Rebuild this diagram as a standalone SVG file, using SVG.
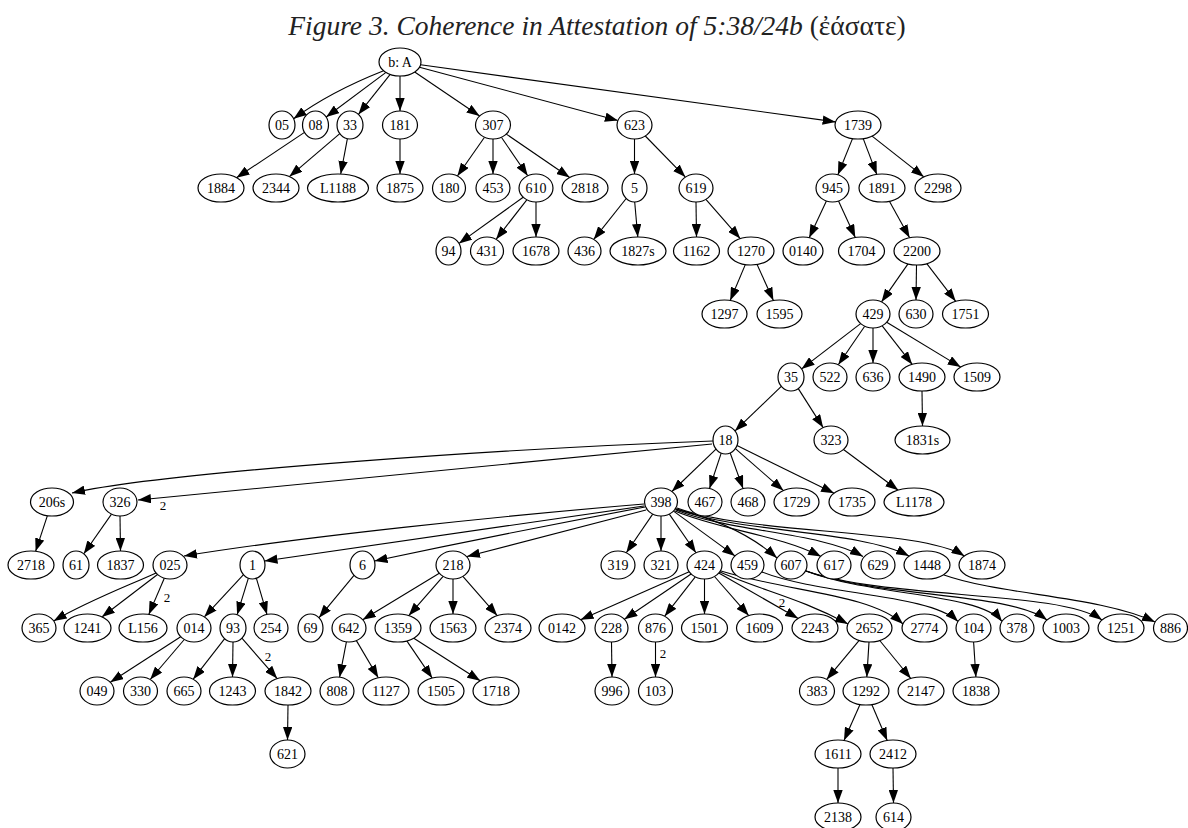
<svg xmlns="http://www.w3.org/2000/svg" width="1188" height="828" viewBox="0 0 1188 828">
<style>
.node ellipse{fill:#fff;stroke:#000;stroke-width:1.2}
.node text{font-family:"Liberation Serif",serif;font-size:14px;text-anchor:middle;fill:#000}
.e{fill:none;stroke:#000;stroke-width:1.1;marker-end:url(#ah)}
.lbl{font-family:"Liberation Serif",serif;font-size:13px;text-anchor:middle;fill:#000}
.title{font-family:"Liberation Serif",serif;font-size:27.5px;fill:#222}
</style>
<defs>
<marker id="ah" viewBox="0 0 13 9.4" markerWidth="13" markerHeight="9.4" refX="13" refY="4.7" orient="auto" markerUnits="userSpaceOnUse"><path d="M0,0 L13,4.7 L0,9.4 z" fill="#000"/></marker>
</defs>
<rect width="1188" height="828" fill="#fff"/>
<text class="title" x="597" y="35" text-anchor="middle"><tspan font-style="italic">Figure 3. Coherence in Attestation of 5:38/24b</tspan> (ἐάσατε)</text>
<g id="edges">
<path class="e" d="M383.6,70.8 Q330,92 293.6,118.8"/>
<path class="e" d="M386,72.4 L326.2,117"/>
<path class="e" d="M390.2,74.4 L358.4,114.4"/>
<path class="e" d="M400,76 L400,111"/>
<path class="e" d="M414.7,72 L479.6,116"/>
<path class="e" d="M419.5,67.2 L617.9,120.5"/>
<path class="e" d="M420.6,64.8 L835.6,121.9"/>
<path class="e" d="M304.5,132.4 L236.5,177.7"/>
<path class="e" d="M339.8,133.7 L289.4,176.6"/>
<path class="e" d="M347.4,138.7 L340.7,174"/>
<path class="e" d="M400,139 L400,174"/>
<path class="e" d="M484.5,137.2 L457.4,176"/>
<path class="e" d="M493,139 L493,174"/>
<path class="e" d="M501.4,137.3 L527.7,175.8"/>
<path class="e" d="M506.3,134.1 L569.7,177.5"/>
<path class="e" d="M634.5,139 L634.5,174"/>
<path class="e" d="M645.3,136 L685.4,177.1"/>
<path class="e" d="M852.5,138.6 L837.9,174.8"/>
<path class="e" d="M863.2,138.6 L876.8,174.4"/>
<path class="e" d="M872.1,136.1 L923.9,176.9"/>
<path class="e" d="M523.2,197.2 L459,243.4"/>
<path class="e" d="M526.8,199.8 L496.1,239.3"/>
<path class="e" d="M536,202 L536,237"/>
<path class="e" d="M626.2,198.5 L593.7,239.4"/>
<path class="e" d="M634.7,202 L637.8,237"/>
<path class="e" d="M696,202 L696.5,237"/>
<path class="e" d="M705.9,199.4 L740.2,238.6"/>
<path class="e" d="M826.4,201 L809.2,237.7"/>
<path class="e" d="M838.5,201 L855.3,237.5"/>
<path class="e" d="M889.4,201.3 L909.6,237.7"/>
<path class="e" d="M745.3,264.6 L730.2,300.5"/>
<path class="e" d="M757.1,264.5 L773.4,300.5"/>
<path class="e" d="M908,263.9 L881.5,301.9"/>
<path class="e" d="M916.5,265 L916,300"/>
<path class="e" d="M926.8,263.7 L955.7,301.3"/>
<path class="e" d="M860.6,323.6 L801.6,368.9"/>
<path class="e" d="M864.7,326.2 L838.3,364.8"/>
<path class="e" d="M873,328 L873,363"/>
<path class="e" d="M882.2,325.8 L912.2,364.4"/>
<path class="e" d="M886.7,322.3 L960.7,367.1"/>
<path class="e" d="M781.3,386.3 L735,430.9"/>
<path class="e" d="M798.3,388.6 L823.1,427.6"/>
<path class="e" d="M922,391 L922.5,426"/>
<path class="e" d="M843.5,449.5 L898.3,490.3"/>
<path class="e" d="M716,449.1 L671.9,491.5"/>
<path class="e" d="M721.2,453.1 L709.5,488.5"/>
<path class="e" d="M730.2,453 L743.1,488.6"/>
<path class="e" d="M735.4,448.6 L783.4,490.6"/>
<path class="e" d="M737,445.6 L834.1,493.2"/>
<path class="e" d="M713,441 C520,448 170,471 72,493"/>
<path class="e" d="M712,444 L138,500"/>
<text class="lbl" x="163" y="510">2</text>
<path class="e" d="M47.4,515.7 L35.6,551.3"/>
<path class="e" d="M111.5,514.1 L83.8,553.8"/>
<path class="e" d="M120,516 L120.5,551"/>
<path class="e" d="M644,504 C500,516 300,537 184,556"/>
<path class="e" d="M644,506 L264.5,561"/>
<path class="e" d="M645,507 C560,523 450,545 374.5,561"/>
<path class="e" d="M646,510 L467,556.5"/>
<path class="e" d="M652.7,514.1 L626.3,552.8"/>
<path class="e" d="M661,516 L661,551"/>
<path class="e" d="M669.3,514.1 L696,552.7"/>
<path class="e" d="M673.5,511.1 L735,555.9"/>
<path class="e" d="M675.3,508.9 Q740,525 777,558"/>
<path class="e" d="M675,511 C720,530 780,535 821,556.5"/>
<path class="e" d="M676,510 C730,532 820,532 863,556.5"/>
<path class="e" d="M676,509 C740,533 860,530 909,556"/>
<path class="e" d="M677,508 C750,535 920,528 964.4,556"/>
<path class="e" d="M156,573 C130,585 90,600 53.7,620.9"/>
<path class="e" d="M157.5,574.5 L101.9,617"/>
<path class="e" d="M164.3,578.2 L148.8,614.4"/>
<text class="lbl" x="167" y="602">2</text>
<path class="e" d="M243.5,574.7 L204.3,616.9"/>
<path class="e" d="M248.4,578.2 L237.1,614.7"/>
<path class="e" d="M256.4,578.3 L267,614.4"/>
<path class="e" d="M354,575.3 L319,617.7"/>
<path class="e" d="M439.3,573.3 L362.7,619.7"/>
<path class="e" d="M443.1,576.4 L408.8,615.6"/>
<path class="e" d="M453,579 L453,614"/>
<path class="e" d="M462.9,576.4 L497.2,615.6"/>
<path class="e" d="M689.2,571.8 L580.6,619.8"/>
<path class="e" d="M691.1,574 L624.4,619.3"/>
<path class="e" d="M695.3,576.9 L664.7,616.2"/>
<path class="e" d="M704.5,579 L704.5,614"/>
<path class="e" d="M714.5,576.5 L748.7,615.6"/>
<path class="e" d="M718.8,573.1 L798.2,618.4"/>
<text class="lbl" x="782" y="607">2</text>
<path class="e" d="M720,572 C760,590 800,598 848,624"/>
<path class="e" d="M721,571 C790,592 870,594 903,624"/>
<path class="e" d="M762,572 C820,595 930,594 958,621.5"/>
<path class="e" d="M806,571 C870,596 980,593 1002,621.4"/>
<path class="e" d="M806,571 C880,598 1010,592 1047,620"/>
<path class="e" d="M806,571 C890,600 1060,590 1102,620"/>
<path class="e" d="M944,575 C1000,595 1100,596 1155,622"/>
<path class="e" d="M180.7,636.7 L110.3,682.3"/>
<path class="e" d="M184.3,639.5 L150.2,679.5"/>
<path class="e" d="M224.7,638.7 L193.2,679.2"/>
<path class="e" d="M233,642 L232.5,677"/>
<path class="e" d="M241.9,638.2 L277.2,678.6"/>
<text class="lbl" x="268" y="661">2</text>
<path class="e" d="M346.4,641.8 L339.6,677.2"/>
<path class="e" d="M356.4,640.6 L378.3,677.8"/>
<path class="e" d="M406.8,640.9 L432.2,678.1"/>
<path class="e" d="M413.8,638.2 L480.2,680.8"/>
<path class="e" d="M611.5,642 L612,677"/>
<path class="e" d="M655.5,642 L655.5,677"/>
<text class="lbl" x="663" y="658">2</text>
<path class="e" d="M859.2,640.4 L826.7,679.4"/>
<path class="e" d="M869,642 L866.8,677"/>
<path class="e" d="M879.7,640.5 L910.8,678.5"/>
<path class="e" d="M973.6,642 L975.9,677"/>
<path class="e" d="M288,705 L287.5,740"/>
<path class="e" d="M860,704.5 L844,740.5"/>
<path class="e" d="M871.8,704.5 L887.2,740.5"/>
<path class="e" d="M838,768 L838,803"/>
<path class="e" d="M893,768 L893.5,803"/>
</g>
<g id="nbA" class="node"><ellipse cx="400" cy="62" rx="21" ry="14"/><text x="400" y="67">b: A</text></g>
<g id="n05" class="node"><ellipse cx="282" cy="125" rx="13" ry="14"/><text x="282" y="130">05</text></g>
<g id="n08" class="node"><ellipse cx="315.5" cy="125" rx="13" ry="14"/><text x="315.5" y="130">08</text></g>
<g id="n33" class="node"><ellipse cx="350" cy="125" rx="13" ry="14"/><text x="350" y="130">33</text></g>
<g id="n181" class="node"><ellipse cx="400" cy="125" rx="17.5" ry="14"/><text x="400" y="130">181</text></g>
<g id="n307" class="node"><ellipse cx="493" cy="125" rx="17.5" ry="14"/><text x="493" y="130">307</text></g>
<g id="n623" class="node"><ellipse cx="634.5" cy="125" rx="17.5" ry="14"/><text x="634.5" y="130">623</text></g>
<g id="n1739" class="node"><ellipse cx="858" cy="125" rx="23" ry="14"/><text x="858" y="130">1739</text></g>
<g id="n1884" class="node"><ellipse cx="221" cy="188" rx="23" ry="14"/><text x="221" y="193">1884</text></g>
<g id="n2344" class="node"><ellipse cx="276" cy="188" rx="23" ry="14"/><text x="276" y="193">2344</text></g>
<g id="nL1188" class="node"><ellipse cx="338" cy="188" rx="30.5" ry="14"/><text x="338" y="193">L1188</text></g>
<g id="n1875" class="node"><ellipse cx="400" cy="188" rx="23" ry="14"/><text x="400" y="193">1875</text></g>
<g id="n180" class="node"><ellipse cx="449" cy="188" rx="16.5" ry="14"/><text x="449" y="193">180</text></g>
<g id="n453" class="node"><ellipse cx="493" cy="188" rx="17" ry="14"/><text x="493" y="193">453</text></g>
<g id="n610" class="node"><ellipse cx="536" cy="188" rx="17" ry="14"/><text x="536" y="193">610</text></g>
<g id="n2818" class="node"><ellipse cx="585" cy="188" rx="23" ry="14"/><text x="585" y="193">2818</text></g>
<g id="n5" class="node"><ellipse cx="634.5" cy="188" rx="12.5" ry="14"/><text x="634.5" y="193">5</text></g>
<g id="n619" class="node"><ellipse cx="696" cy="188" rx="17" ry="14"/><text x="696" y="193">619</text></g>
<g id="n945" class="node"><ellipse cx="832.5" cy="188" rx="16.5" ry="14"/><text x="832.5" y="193">945</text></g>
<g id="n1891" class="node"><ellipse cx="882" cy="188" rx="23" ry="14"/><text x="882" y="193">1891</text></g>
<g id="n2298" class="node"><ellipse cx="938" cy="188" rx="23" ry="14"/><text x="938" y="193">2298</text></g>
<g id="n94" class="node"><ellipse cx="448.5" cy="251" rx="12.5" ry="14"/><text x="448.5" y="256">94</text></g>
<g id="n431" class="node"><ellipse cx="487" cy="251" rx="16.5" ry="14"/><text x="487" y="256">431</text></g>
<g id="n1678" class="node"><ellipse cx="536" cy="251" rx="23" ry="14"/><text x="536" y="256">1678</text></g>
<g id="n436" class="node"><ellipse cx="584.5" cy="251" rx="16.5" ry="14"/><text x="584.5" y="256">436</text></g>
<g id="n1827s" class="node"><ellipse cx="638" cy="251" rx="28" ry="14"/><text x="638" y="256">1827s</text></g>
<g id="n1162" class="node"><ellipse cx="696.5" cy="251" rx="23" ry="14"/><text x="696.5" y="256">1162</text></g>
<g id="n1270" class="node"><ellipse cx="751" cy="251" rx="23" ry="14"/><text x="751" y="256">1270</text></g>
<g id="n0140" class="node"><ellipse cx="803" cy="251" rx="20" ry="14"/><text x="803" y="256">0140</text></g>
<g id="n1704" class="node"><ellipse cx="861.5" cy="251" rx="23" ry="14"/><text x="861.5" y="256">1704</text></g>
<g id="n2200" class="node"><ellipse cx="917" cy="251" rx="23" ry="14"/><text x="917" y="256">2200</text></g>
<g id="n1297" class="node"><ellipse cx="724.5" cy="314" rx="22.5" ry="14"/><text x="724.5" y="319">1297</text></g>
<g id="n1595" class="node"><ellipse cx="779.5" cy="314" rx="22.5" ry="14"/><text x="779.5" y="319">1595</text></g>
<g id="n429" class="node"><ellipse cx="873" cy="314" rx="17" ry="14"/><text x="873" y="319">429</text></g>
<g id="n630" class="node"><ellipse cx="916" cy="314" rx="17" ry="14"/><text x="916" y="319">630</text></g>
<g id="n1751" class="node"><ellipse cx="965.5" cy="314" rx="23" ry="14"/><text x="965.5" y="319">1751</text></g>
<g id="n35" class="node"><ellipse cx="791" cy="377" rx="13" ry="14"/><text x="791" y="382">35</text></g>
<g id="n522" class="node"><ellipse cx="830" cy="377" rx="17" ry="14"/><text x="830" y="382">522</text></g>
<g id="n636" class="node"><ellipse cx="873" cy="377" rx="17" ry="14"/><text x="873" y="382">636</text></g>
<g id="n1490" class="node"><ellipse cx="922" cy="377" rx="23" ry="14"/><text x="922" y="382">1490</text></g>
<g id="n1509" class="node"><ellipse cx="977" cy="377" rx="23" ry="14"/><text x="977" y="382">1509</text></g>
<g id="n18" class="node"><ellipse cx="725.5" cy="440" rx="12.5" ry="14"/><text x="725.5" y="445">18</text></g>
<g id="n323" class="node"><ellipse cx="831" cy="440" rx="17" ry="14"/><text x="831" y="445">323</text></g>
<g id="n1831s" class="node"><ellipse cx="922.5" cy="440" rx="27.5" ry="14"/><text x="922.5" y="445">1831s</text></g>
<g id="n206s" class="node"><ellipse cx="52" cy="502" rx="21.5" ry="14"/><text x="52" y="507">206s</text></g>
<g id="n326" class="node"><ellipse cx="120" cy="502" rx="17" ry="14"/><text x="120" y="507">326</text></g>
<g id="n398" class="node"><ellipse cx="661" cy="502" rx="16.5" ry="14"/><text x="661" y="507">398</text></g>
<g id="n467" class="node"><ellipse cx="705" cy="502" rx="17" ry="14"/><text x="705" y="507">467</text></g>
<g id="n468" class="node"><ellipse cx="748" cy="502" rx="17" ry="14"/><text x="748" y="507">468</text></g>
<g id="n1729" class="node"><ellipse cx="796.5" cy="502" rx="22.5" ry="14"/><text x="796.5" y="507">1729</text></g>
<g id="n1735" class="node"><ellipse cx="852" cy="502" rx="23" ry="14"/><text x="852" y="507">1735</text></g>
<g id="nL1178" class="node"><ellipse cx="914" cy="502" rx="30" ry="14"/><text x="914" y="507">L1178</text></g>
<g id="n2718" class="node"><ellipse cx="31" cy="565" rx="23" ry="14"/><text x="31" y="570">2718</text></g>
<g id="n61" class="node"><ellipse cx="76" cy="565" rx="13" ry="14"/><text x="76" y="570">61</text></g>
<g id="n1837" class="node"><ellipse cx="120.5" cy="565" rx="23" ry="14"/><text x="120.5" y="570">1837</text></g>
<g id="n025" class="node"><ellipse cx="170" cy="565" rx="17" ry="14"/><text x="170" y="570">025</text></g>
<g id="n1" class="node"><ellipse cx="252.5" cy="565" rx="12.5" ry="14"/><text x="252.5" y="570">1</text></g>
<g id="n6" class="node"><ellipse cx="362.5" cy="565" rx="12.5" ry="14"/><text x="362.5" y="570">6</text></g>
<g id="n218" class="node"><ellipse cx="453" cy="565" rx="17" ry="14"/><text x="453" y="570">218</text></g>
<g id="n319" class="node"><ellipse cx="618" cy="565" rx="17" ry="14"/><text x="618" y="570">319</text></g>
<g id="n321" class="node"><ellipse cx="661" cy="565" rx="17" ry="14"/><text x="661" y="570">321</text></g>
<g id="n424" class="node"><ellipse cx="704.5" cy="565" rx="17.5" ry="14"/><text x="704.5" y="570">424</text></g>
<g id="n459" class="node"><ellipse cx="747.5" cy="565" rx="16.5" ry="14"/><text x="747.5" y="570">459</text></g>
<g id="n607" class="node"><ellipse cx="791" cy="565" rx="16" ry="14"/><text x="791" y="570">607</text></g>
<g id="n617" class="node"><ellipse cx="834" cy="565" rx="17" ry="14"/><text x="834" y="570">617</text></g>
<g id="n629" class="node"><ellipse cx="878" cy="565" rx="17" ry="14"/><text x="878" y="570">629</text></g>
<g id="n1448" class="node"><ellipse cx="927" cy="565" rx="23" ry="14"/><text x="927" y="570">1448</text></g>
<g id="n1874" class="node"><ellipse cx="982" cy="565" rx="23" ry="14"/><text x="982" y="570">1874</text></g>
<g id="n365" class="node"><ellipse cx="39" cy="628" rx="17" ry="14"/><text x="39" y="633">365</text></g>
<g id="n1241" class="node"><ellipse cx="87.5" cy="628" rx="23.5" ry="14"/><text x="87.5" y="633">1241</text></g>
<g id="nL156" class="node"><ellipse cx="143" cy="628" rx="24" ry="14"/><text x="143" y="633">L156</text></g>
<g id="n014" class="node"><ellipse cx="194" cy="628" rx="17" ry="14"/><text x="194" y="633">014</text></g>
<g id="n93" class="node"><ellipse cx="233" cy="628" rx="13" ry="14"/><text x="233" y="633">93</text></g>
<g id="n254" class="node"><ellipse cx="271" cy="628" rx="17" ry="14"/><text x="271" y="633">254</text></g>
<g id="n69" class="node"><ellipse cx="310.5" cy="628" rx="12.5" ry="14"/><text x="310.5" y="633">69</text></g>
<g id="n642" class="node"><ellipse cx="349" cy="628" rx="17" ry="14"/><text x="349" y="633">642</text></g>
<g id="n1359" class="node"><ellipse cx="398" cy="628" rx="23" ry="14"/><text x="398" y="633">1359</text></g>
<g id="n1563" class="node"><ellipse cx="453" cy="628" rx="23" ry="14"/><text x="453" y="633">1563</text></g>
<g id="n2374" class="node"><ellipse cx="508" cy="628" rx="23" ry="14"/><text x="508" y="633">2374</text></g>
<g id="n0142" class="node"><ellipse cx="562" cy="628" rx="23" ry="14"/><text x="562" y="633">0142</text></g>
<g id="n228" class="node"><ellipse cx="611.5" cy="628" rx="16.5" ry="14"/><text x="611.5" y="633">228</text></g>
<g id="n876" class="node"><ellipse cx="655.5" cy="628" rx="17" ry="14"/><text x="655.5" y="633">876</text></g>
<g id="n1501" class="node"><ellipse cx="704.5" cy="628" rx="23" ry="14"/><text x="704.5" y="633">1501</text></g>
<g id="n1609" class="node"><ellipse cx="759.5" cy="628" rx="23" ry="14"/><text x="759.5" y="633">1609</text></g>
<g id="n2243" class="node"><ellipse cx="815" cy="628" rx="23" ry="14"/><text x="815" y="633">2243</text></g>
<g id="n2652" class="node"><ellipse cx="869.5" cy="628" rx="22.5" ry="14"/><text x="869.5" y="633">2652</text></g>
<g id="n2774" class="node"><ellipse cx="924.5" cy="628" rx="22.5" ry="14"/><text x="924.5" y="633">2774</text></g>
<g id="n104" class="node"><ellipse cx="973.5" cy="628" rx="17.5" ry="14"/><text x="973.5" y="633">104</text></g>
<g id="n378" class="node"><ellipse cx="1017" cy="628" rx="17" ry="14"/><text x="1017" y="633">378</text></g>
<g id="n1003" class="node"><ellipse cx="1066" cy="628" rx="23" ry="14"/><text x="1066" y="633">1003</text></g>
<g id="n1251" class="node"><ellipse cx="1121" cy="628" rx="23" ry="14"/><text x="1121" y="633">1251</text></g>
<g id="n886" class="node"><ellipse cx="1170.5" cy="628" rx="17" ry="14"/><text x="1170.5" y="633">886</text></g>
<g id="n049" class="node"><ellipse cx="97" cy="691" rx="17" ry="14"/><text x="97" y="696">049</text></g>
<g id="n330" class="node"><ellipse cx="140.5" cy="691" rx="17" ry="14"/><text x="140.5" y="696">330</text></g>
<g id="n665" class="node"><ellipse cx="184" cy="691" rx="17" ry="14"/><text x="184" y="696">665</text></g>
<g id="n1243" class="node"><ellipse cx="232.5" cy="691" rx="23" ry="14"/><text x="232.5" y="696">1243</text></g>
<g id="n1842" class="node"><ellipse cx="288" cy="691" rx="23" ry="14"/><text x="288" y="696">1842</text></g>
<g id="n808" class="node"><ellipse cx="337" cy="691" rx="17" ry="14"/><text x="337" y="696">808</text></g>
<g id="n1127" class="node"><ellipse cx="386" cy="691" rx="23" ry="14"/><text x="386" y="696">1127</text></g>
<g id="n1505" class="node"><ellipse cx="441" cy="691" rx="23" ry="14"/><text x="441" y="696">1505</text></g>
<g id="n1718" class="node"><ellipse cx="496" cy="691" rx="23" ry="14"/><text x="496" y="696">1718</text></g>
<g id="n996" class="node"><ellipse cx="612" cy="691" rx="17" ry="14"/><text x="612" y="696">996</text></g>
<g id="n103" class="node"><ellipse cx="655.5" cy="691" rx="17" ry="14"/><text x="655.5" y="696">103</text></g>
<g id="n383" class="node"><ellipse cx="817" cy="691" rx="17.5" ry="14"/><text x="817" y="696">383</text></g>
<g id="n1292" class="node"><ellipse cx="866" cy="691" rx="23" ry="14"/><text x="866" y="696">1292</text></g>
<g id="n2147" class="node"><ellipse cx="921" cy="691" rx="23" ry="14"/><text x="921" y="696">2147</text></g>
<g id="n1838" class="node"><ellipse cx="976" cy="691" rx="23" ry="14"/><text x="976" y="696">1838</text></g>
<g id="n621" class="node"><ellipse cx="287.5" cy="754" rx="17.5" ry="14"/><text x="287.5" y="759">621</text></g>
<g id="n1611" class="node"><ellipse cx="838" cy="754" rx="23" ry="14"/><text x="838" y="759">1611</text></g>
<g id="n2412" class="node"><ellipse cx="893" cy="754" rx="23" ry="14"/><text x="893" y="759">2412</text></g>
<g id="n2138" class="node"><ellipse cx="838" cy="817" rx="23" ry="14"/><text x="838" y="822">2138</text></g>
<g id="n614" class="node"><ellipse cx="893.5" cy="817" rx="17.5" ry="14"/><text x="893.5" y="822">614</text></g>
</svg>
